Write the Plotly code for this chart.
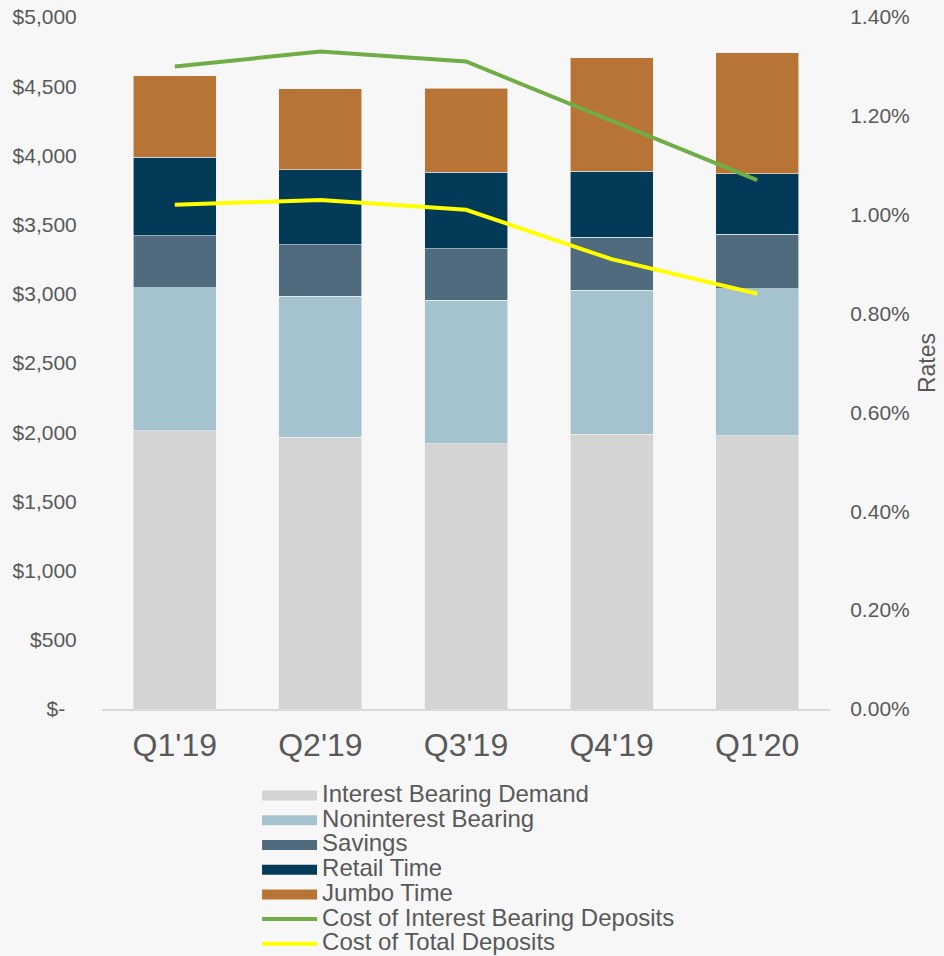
import plotly.graph_objects as go

# -------------------------------------------------------
# Data
# -------------------------------------------------------
quarters = ["Q1'19", "Q2'19", "Q3'19", "Q4'19", "Q1'20"]

interest_bearing_demand = [2009, 1965, 1915, 1987, 1973]
noninterest_bearing = [1033, 1019, 1040, 1040, 1062]
savings = [376, 369, 369, 383, 397]
retail_time = [570, 542, 556, 477, 434]
jumbo_time = [586, 585, 607, 817, 874]

# rates in percent
cost_ib_deposits = [1.30, 1.33, 1.31, 1.19, 1.07]
cost_total_deposits = [1.02, 1.03, 1.01, 0.91, 0.84]

dollar_ticks = [0, 500, 1000, 1500, 2000, 2500, 3000, 3500, 4000, 4500, 5000]
dollar_labels = ["$-\u00a0\u00a0"] + [f"${v:,}" for v in dollar_ticks[1:]]
rate_ticks = [0.0, 0.2, 0.4, 0.6, 0.8, 1.0, 1.2, 1.4]
rate_labels = [f"{v:.2f}%" for v in rate_ticks]

TEXT = "#595959"
FONT = "Liberation Sans, Arial, sans-serif"
LEGEND_TEXT = '<span style="font-size:24px">{}</span>'

bar_series = [
    ("Interest Bearing Demand", interest_bearing_demand, "#d4d4d4"),
    ("Noninterest Bearing", noninterest_bearing, "#a4c3cf"),
    ("Savings", savings, "#4f6b7d"),
    ("Retail Time", retail_time, "#033a58"),
    ("Jumbo Time", jumbo_time, "#b87434"),
]
line_series = [
    ("Cost of Interest Bearing Deposits", cost_ib_deposits, "#70ad47"),
    ("Cost of Total Deposits", cost_total_deposits, "#ffff00"),
]

fig = go.Figure()

# Stacked bars (legend entries drawn as wide swatches)
for name, vals, color in bar_series:
    fig.add_trace(
        go.Bar(
            x=quarters,
            y=vals,
            name=name,
            legendgroup=name,
            showlegend=False,
            marker=dict(color=color, line=dict(color="#f2f2f2", width=0.6)),
        )
    )
    # wide legend swatch like the original
    fig.add_trace(
        go.Scatter(
            x=[None],
            y=[None],
            mode="lines",
            name=LEGEND_TEXT.format(name),
            legendgroup=name,
            line=dict(color=color, width=12),
        )
    )

# Rate lines on the secondary axis
for name, vals, color in line_series:
    fig.add_trace(
        go.Scatter(
            x=quarters,
            y=vals,
            name=LEGEND_TEXT.format(name),
            mode="lines",
            yaxis="y2",
            line=dict(color=color, width=4),
        )
    )

# -------------------------------------------------------
# Layout
# -------------------------------------------------------
fig.update_layout(
    width=944,
    height=956,
    barmode="stack",
    bargap=0.43,
    paper_bgcolor="#f7f7f7",
    plot_bgcolor="#f7f7f7",
    font=dict(family=FONT, color=TEXT, size=21),
    margin=dict(l=102, r=114, t=17, b=247, autoexpand=False),
    xaxis=dict(
        showgrid=False,
        showline=True,
        linecolor="#d9d9d9",
        linewidth=2,
        ticks="outside",
        ticklen=7,
        tickcolor="rgba(0,0,0,0)",
        tickfont=dict(size=32, color=TEXT),
    ),
    yaxis=dict(
        range=[0, 5000],
        tickvals=dollar_ticks,
        ticktext=dollar_labels,
        showgrid=False,
        zeroline=False,
        ticks="outside",
        ticklen=20,
        tickcolor="rgba(0,0,0,0)",
        tickfont=dict(size=21, color=TEXT),
    ),
    yaxis2=dict(
        overlaying="y",
        side="right",
        range=[0, 1.4],
        tickvals=rate_ticks,
        ticktext=rate_labels,
        showgrid=False,
        zeroline=False,
        ticks="outside",
        ticklen=15,
        tickcolor="rgba(0,0,0,0)",
        tickfont=dict(size=21, color=TEXT),
        title=dict(text="Rates", font=dict(size=23, color=TEXT), standoff=10),
    ),
    legend=dict(
        orientation="v",
        x=0.213,
        xanchor="left",
        y=-0.1,
        yanchor="top",
        bgcolor="rgba(0,0,0,0)",
        font=dict(size=16.7, color=TEXT),
        itemwidth=55,
        traceorder="normal",
    ),
)

fig.write_html(
    "out.html",
    config={"displayModeBar": False},
    post_script="document.body.style.margin='0';",
)
